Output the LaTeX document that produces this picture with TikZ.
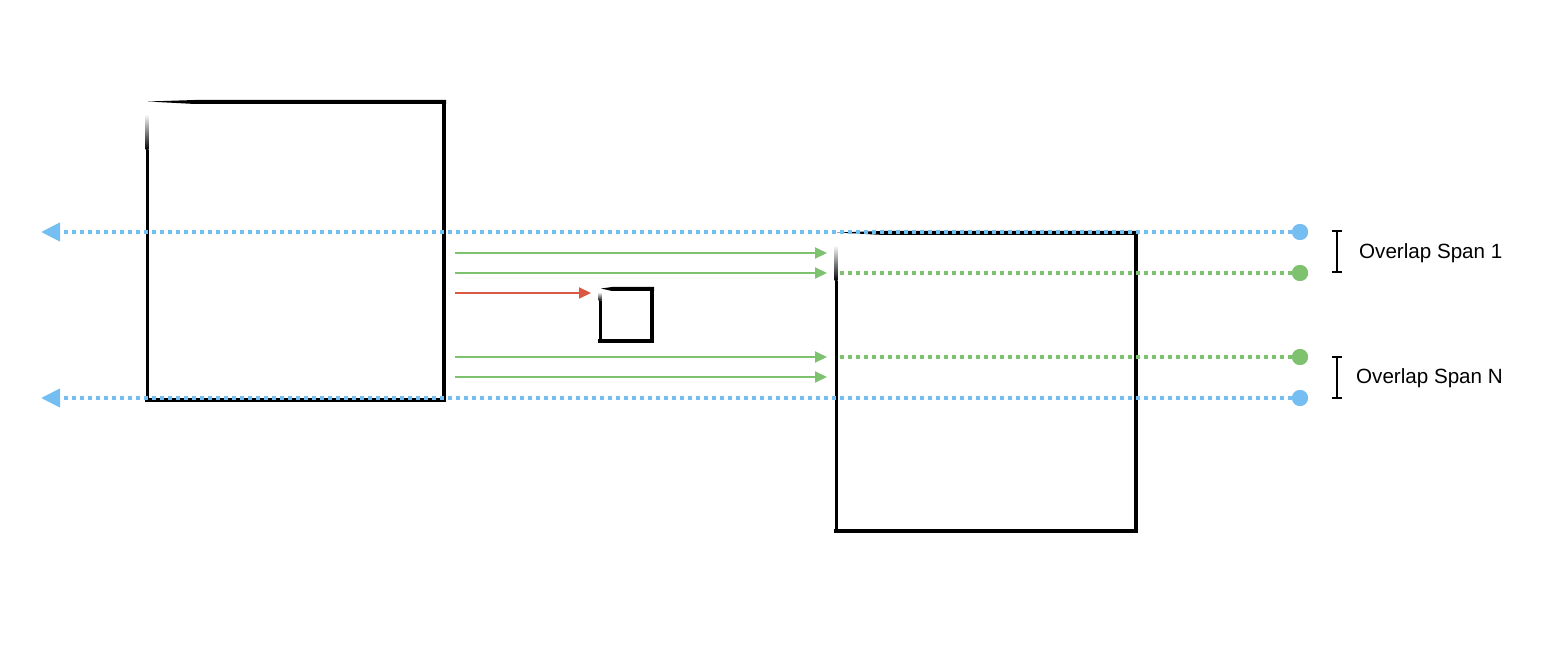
\documentclass[tikz,border=0pt]{standalone}
\usepackage{fontspec}
\setmainfont{Liberation Sans}
\usetikzlibrary{arrows.meta,calc}
\definecolor{lblue}{RGB}{116,190,242}
\definecolor{lgreen}{RGB}{126,193,110}
\definecolor{lred}{RGB}{218,88,66}
\tikzset{
  frame/.style={draw=none,inner sep=0pt,outer sep=0pt},
  thick edge/.style={line width=4pt,line cap=rect,line join=miter},
  thin edge/.style={line width=3pt},
  dotline/.style={line width=4pt,dash pattern=on 4pt off 4pt},
  bluedot/.style={circle,fill=lblue,inner sep=0pt,minimum size=16pt},
  greendot/.style={circle,fill=lgreen,inner sep=0pt,minimum size=16pt},
  flow/.style={line width=2pt,-{Triangle[length=12pt,width=11pt]}},
  spanlabel/.style={anchor=west,inner sep=0pt,font=\fontsize{20.6}{24}\selectfont},
  bracket/.style={line width=2pt}
}
\newcommand{\sketchbox}[2]{%
  \draw[thick edge] (#1.north east) -- (#1.south east) -- (#1.south west);
  \draw[thin edge] (#1.south west) -- ($(#1.north west)+(0,4*#2)$);
  \shade[top color=white,bottom color=black] ($(#1.north west)+(-1.5,#2)$) rectangle ($(#1.north west)+(1.5,4*#2)$);
  \fill ($(#1.north west)+(1,-0.5)$) -- ($(#1.north west)+(4*#2,-2)$) -- ($(#1.north east)+(2,-2)$)
        -- ($(#1.north east)+(2,2)$) -- ($(#1.north west)+(4*#2,2)$) -- cycle;
}
\begin{document}
\begin{tikzpicture}[x=1pt,y=-1pt]
\useasboundingbox (0,0) rectangle (1558,660);
% boxes
\node[frame,minimum width=297pt,minimum height=298pt] (L) at (295.5,251) {};
\node[frame,minimum width=300pt,minimum height=298pt] (R) at (986,382) {};
\node[frame,minimum width=52pt,minimum height=52pt] (S) at (626,315) {};
\sketchbox{L}{12}
\sketchbox{R}{12}
\sketchbox{S}{3}
% end points
\node[bluedot] (b1) at (1300,232) {};
\node[bluedot] (b2) at (1300,398) {};
\node[greendot] (g1) at (1300,273) {};
\node[greendot] (g2) at (1300,357) {};
\coordinate (bl1) at (41,232);
\coordinate (bl2) at (41,398);
% blue dotted arrows
\draw[dotline,lblue,-{Triangle[length=19pt,width=18pt]}] (b1.center) -- (bl1);
\draw[dotline,lblue,-{Triangle[length=19pt,width=18pt]}] (b2.center) -- (bl2);
% green arrows
\coordinate (s1) at (455,253);
\coordinate (s2) at (455,273);
\coordinate (s3) at (455,293);
\coordinate (s4) at (455,357);
\coordinate (s5) at (455,377);
\coordinate (t1) at (827,253);
\coordinate (t2) at (827,273);
\coordinate (t4) at (827,357);
\coordinate (t5) at (827,377);
\coordinate (t3) at (591,293);
\draw[flow,lgreen] (s1) -- (t1);
\draw[flow,lgreen] (s2) -- (t2);
\draw[flow,lgreen] (s4) -- (t4);
\draw[flow,lgreen] (s5) -- (t5);
\draw[flow,lred] (s3) -- (t3);
% green dotted
\coordinate (d1) at (836,273);
\coordinate (d2) at (836,357);
\draw[dotline,lgreen] (g1.center) -- (d1);
\draw[dotline,lgreen] (g2.center) -- (d2);
\node[greendot] at (g1) {};
\node[greendot] at (g2) {};
\node[bluedot] at (b1) {};
\node[bluedot] at (b2) {};
% brackets
\coordinate (k1t) at (1337,231);
\coordinate (k1b) at (1337,272);
\coordinate (k2t) at (1337,357);
\coordinate (k2b) at (1337,398);
\draw[bracket] (k1t) -- (k1b);
\draw[bracket] ($(k1t)+(-5,0)$) -- ($(k1t)+(5,0)$);
\draw[bracket] ($(k1b)+(-5,0)$) -- ($(k1b)+(5,0)$);
\draw[bracket] (k2t) -- (k2b);
\draw[bracket] ($(k2t)+(-5,0)$) -- ($(k2t)+(5,0)$);
\draw[bracket] ($(k2b)+(-5,0)$) -- ($(k2b)+(5,0)$);
% labels
\node[spanlabel] (lab1) at (1359,253) {Overlap Span 1};
\node[spanlabel] (labN) at (1356,378) {Overlap Span N};
\end{tikzpicture}
\end{document}
